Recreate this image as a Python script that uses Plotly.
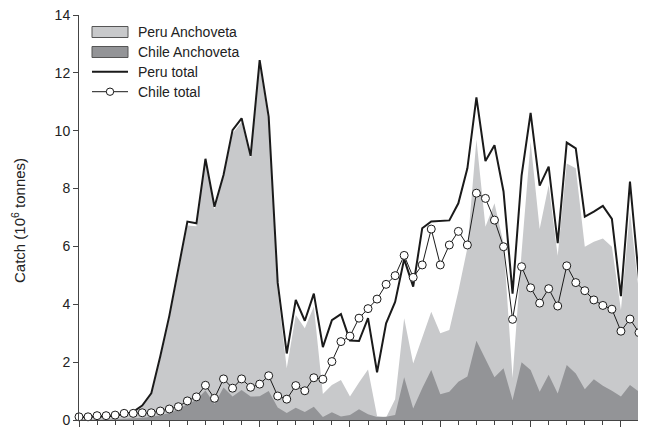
import plotly.graph_objects as go

years = list(range(1950, 2013))

peru_total = [0.10, 0.10, 0.12, 0.12, 0.15, 0.20, 0.28, 0.50, 0.92, 2.20,
              3.60, 5.20, 6.86, 6.80, 9.03, 7.37, 8.47, 10.02, 10.43, 9.13,
              12.44, 10.48, 4.74, 2.30, 4.15, 3.43, 4.37, 2.52, 3.45, 3.66,
              2.75, 2.73, 3.52, 1.65, 3.34, 4.08, 5.56, 4.61, 6.63, 6.86,
              6.88, 6.90, 7.49, 8.70, 11.15, 8.95, 9.50, 7.90, 4.37, 8.45,
              10.62, 8.10, 8.76, 6.11, 9.59, 9.39, 7.03, 7.20, 7.40, 6.95,
              4.28, 8.24, 4.87]

peru_anchoveta = [0.05, 0.05, 0.06, 0.07, 0.09, 0.14, 0.24, 0.45, 0.86, 2.10,
                  3.50, 5.10, 6.72, 6.70, 8.95, 7.28, 8.40, 9.90, 10.30, 9.05,
                  12.30, 10.30, 4.45, 1.79, 3.63, 3.17, 3.92, 0.90, 1.21, 1.38,
                  0.81, 1.30, 1.75, 0.14, 0.09, 0.72, 3.52, 1.95, 2.85, 3.74,
                  3.00, 3.11, 4.45, 5.95, 9.70, 6.68, 7.49, 6.11, 1.45, 5.80,
                  9.62, 6.60, 8.12, 5.68, 8.87, 8.70, 5.99, 6.16, 6.27, 5.99,
                  3.80, 7.20, 4.40]

chile_anchoveta = [0.00, 0.00, 0.01, 0.02, 0.03, 0.04, 0.06, 0.08, 0.11, 0.16,
                   0.24, 0.37, 0.55, 0.69, 1.02, 0.55, 1.12, 0.81, 1.04, 0.81,
                   0.82, 1.00, 0.43, 0.24, 0.42, 0.28, 0.46, 0.10, 0.27, 0.12,
                   0.17, 0.37, 0.20, 0.10, 0.11, 0.17, 1.48, 0.40, 1.10, 1.73,
                   0.89, 0.98, 1.32, 1.50, 2.74, 2.13, 1.48, 1.79, 0.69, 2.00,
                   1.73, 0.98, 1.56, 0.92, 1.90, 1.61, 1.06, 1.41, 1.18, 1.01,
                   0.81, 1.21, 0.98]

chile_total = [0.11, 0.11, 0.15, 0.15, 0.17, 0.23, 0.23, 0.25, 0.25, 0.31,
               0.38, 0.46, 0.66, 0.80, 1.20, 0.75, 1.42, 1.10, 1.42, 1.13,
               1.24, 1.53, 0.83, 0.72, 1.19, 1.01, 1.46, 1.41, 2.02, 2.71,
               2.90, 3.52, 3.85, 4.18, 4.69, 4.99, 5.69, 4.93, 5.36, 6.60,
               5.36, 6.05, 6.52, 6.05, 7.84, 7.66, 6.91, 5.99, 3.48, 5.30,
               4.57, 4.04, 4.54, 3.94, 5.33, 4.75, 4.47, 4.15, 3.96, 3.83,
               3.07, 3.49, 3.02]

legend_labels = ["Peru Anchoveta", "Chile Anchoveta", "Peru total", "Chile total"]
y_tick_values = [0, 2, 4, 6, 8, 10, 12, 14]

LIGHT = "#c8c9cb"
DARK = "#939497"
INK = "#1a1a1a"
AXIS = "#444444"
FONT = "Liberation Sans, Arial, sans-serif"

# the page body has an 8px margin, so the figure is placed at (8, 8) on screen
OFF = 8
W, H = 646 - OFF, 429 - OFF
L, R, T, B = 79 - OFF, 7, 15 - OFF, 9
PW, PH = W - L - R, H - T - B


def px(xs):
    # screen pixel x -> paper fraction
    return (xs - OFF - L) / PW


def py(ys):
    # screen pixel y -> paper fraction
    return (H - B - (ys - OFF)) / PH


fig = go.Figure()
fig.add_trace(go.Scatter(x=years, y=peru_anchoveta, mode="lines", fill="tozeroy",
                         fillcolor=LIGHT, line=dict(width=0, color=LIGHT),
                         name=legend_labels[0], showlegend=False))
fig.add_trace(go.Scatter(x=years, y=chile_anchoveta, mode="lines", fill="tozeroy",
                         fillcolor=DARK, line=dict(width=0, color=DARK),
                         name=legend_labels[1], showlegend=False))
fig.add_trace(go.Scatter(x=years, y=peru_total, mode="lines",
                         line=dict(width=2, color=INK),
                         name=legend_labels[2], showlegend=False))
fig.add_trace(go.Scatter(x=years, y=chile_total, mode="lines+markers",
                         line=dict(width=1, color=INK),
                         marker=dict(size=8, color="white", line=dict(width=1, color=INK)),
                         cliponaxis=False,
                         name=legend_labels[3], showlegend=False))

shapes = []
annotations = []
# manual legend
shapes.append(dict(type="rect", xref="paper", yref="paper",
                   x0=px(92), x1=px(128), y0=py(37.5), y1=py(26.5),
                   fillcolor=LIGHT, line=dict(color="#555555", width=1)))
shapes.append(dict(type="rect", xref="paper", yref="paper",
                   x0=px(92), x1=px(128), y0=py(57.5), y1=py(46.5),
                   fillcolor=DARK, line=dict(color="#555555", width=1)))
shapes.append(dict(type="line", xref="paper", yref="paper",
                   x0=px(92), x1=px(128), y0=py(71.7), y1=py(71.7),
                   line=dict(color=INK, width=2)))
shapes.append(dict(type="line", xref="paper", yref="paper",
                   x0=px(92), x1=px(128), y0=py(91.7), y1=py(91.7),
                   line=dict(color=INK, width=1)))
shapes.append(dict(type="circle", xref="paper", yref="paper",
                   x0=px(106.3), x1=px(113.7), y0=py(95.4), y1=py(88.0),
                   fillcolor="white", line=dict(color=INK, width=1)))
for lab, yc in zip(legend_labels, [31.7, 51.7, 71.7, 91.7]):
    annotations.append(dict(text=lab, xref="paper", yref="paper",
                            x=px(136), y=py(yc), xanchor="left", yanchor="middle",
                            showarrow=False, font=dict(family=FONT, size=14, color="#222222")))

annotations.append(dict(text="Catch (10<sup>6</sup> tonnes)", xref="paper", yref="paper",
                        x=px(18), y=py(221), xanchor="center", yanchor="middle",
                        textangle=-90, showarrow=False,
                        font=dict(family=FONT, size=15, color="#222222")))

fig.update_layout(
    width=W, height=H, autosize=False,
    margin=dict(l=L, r=R, t=T, b=B, pad=0),
    paper_bgcolor="white", plot_bgcolor="white",
    showlegend=False,
    shapes=shapes, annotations=annotations,
    font=dict(family=FONT, size=14, color="#222222"),
    xaxis=dict(range=[1950, 2012], showline=True, linecolor=AXIS, linewidth=1,
               ticks="outside", tickmode="linear", tick0=1950, dtick=10,
               ticklen=6, tickcolor=AXIS, tickwidth=1, automargin=False,
               showticklabels=False, showgrid=False, zeroline=False,
               minor=dict(ticks="outside", tickmode="linear", tick0=1950, dtick=2,
                          ticklen=4, tickcolor=AXIS, tickwidth=1, showgrid=False)),
    yaxis=dict(range=[0, 14], tickvals=y_tick_values, showline=True, linecolor=AXIS,
               linewidth=1, ticks="outside", ticklen=5, tickcolor=AXIS, automargin=False,
               ticklabeloverflow="allow",
               tickfont=dict(family=FONT, size=14, color="#222222"),
               showgrid=False, zeroline=False),
)

fig.write_html("out.html")
